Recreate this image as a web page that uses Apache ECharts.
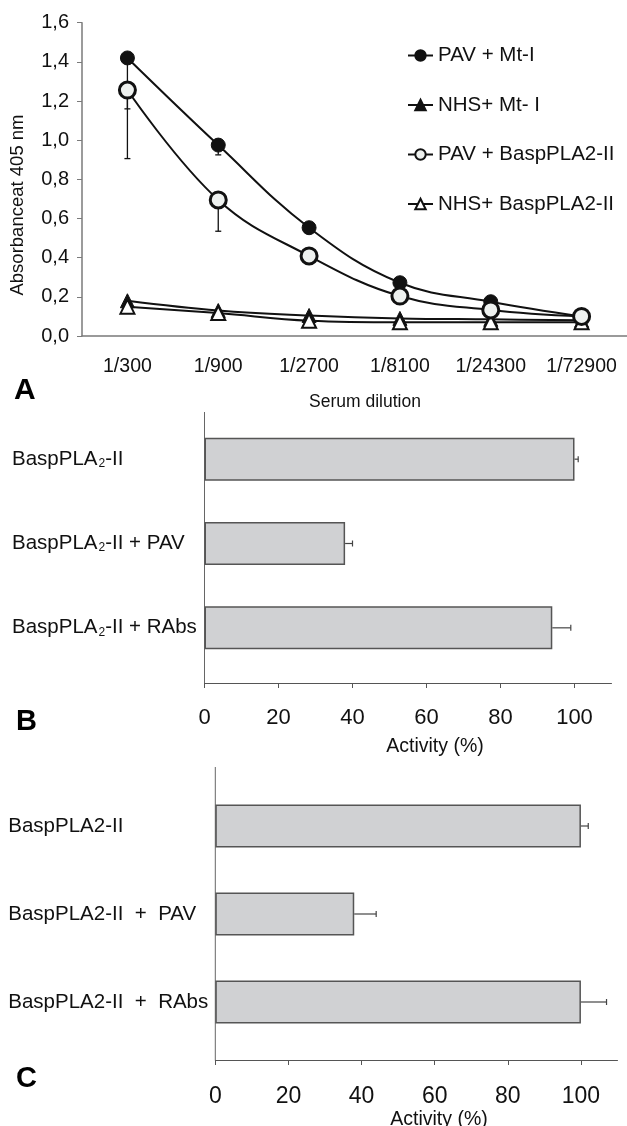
<!DOCTYPE html>
<html>
<head>
<meta charset="utf-8">
<script src="https://cdn.jsdelivr.net/npm/echarts@6/dist/echarts.min.js"></script>
<style>
  html, body { margin: 0; padding: 0; background: #fff; }
  #chart { width: 627px; height: 1126px; }
</style>
</head>
<body>
<div id="chart"></div>
<script>
// ---- panel A : ELISA curves ----
var dilutions = ['1/300', '1/900', '1/2700', '1/8100', '1/24300', '1/72900'];
var pavMt = [1.42, 0.975, 0.553, 0.272, 0.175, 0.10];
var pavMtErr = [0.26, 0.05, 0.02, 0.02, 0.01, 0.01];
var nhsMt = [0.18, 0.13, 0.105, 0.09, 0.085, 0.08];
var pavBasp = [1.256, 0.695, 0.409, 0.204, 0.133, 0.10];
var pavBaspErr = [0.35, 0.16, 0.02, 0.02, 0.01, 0.01];
var nhsBasp = [0.15, 0.117, 0.078, 0.07, 0.07, 0.07];

// ---- panel B : activity ----
var bCats = ['BaspPLA2-II', 'BaspPLA2-II + PAV', 'BaspPLA2-II + RAbs'];
var bVals = [100, 38, 94];
var bErr = [1, 2, 5];

// ---- panel C : activity ----
var cCats = ['BaspPLA2-II', 'BaspPLA2-II  +  PAV', 'BaspPLA2-II  +  RAbs'];
var cVals = [100, 38, 100];
var cErr = [2, 6, 7];

var activityTicks = [0, 20, 40, 60, 80, 100];
var FONT = 'Liberation Sans, Arial, sans-serif';
var AXIS = '#7a7a7a';

function vErrData(vals, errs) {
    return vals.map(function (v, i) { return [i, v, errs[i]]; });
}
function hErrData(vals, errs) {
    return vals.map(function (v, i) { return [v, i, errs[i]]; });
}

// downward error bar (panel A)
function renderDown(params, api) {
    var p = api.coord([api.value(0), api.value(1)]);
    var q = api.coord([api.value(0), api.value(1) - api.value(2)]);
    var st = { stroke: '#111', lineWidth: 1.3 };
    return { type: 'group', children: [
        { type: 'line', shape: { x1: p[0], y1: p[1], x2: q[0], y2: q[1] }, style: st },
        { type: 'line', shape: { x1: q[0] - 3, y1: q[1], x2: q[0] + 3, y2: q[1] }, style: st }
    ] };
}
// rightward error bar (panels B, C)
function renderRight(params, api) {
    var p = api.coord([api.value(0), api.value(1)]);
    var q = api.coord([api.value(0) + api.value(2), api.value(1)]);
    var st = { stroke: '#444', lineWidth: 1.2 };
    return { type: 'group', children: [
        { type: 'line', shape: { x1: p[0], y1: p[1], x2: q[0], y2: q[1] }, style: st },
        { type: 'line', shape: { x1: q[0], y1: q[1] - 3, x2: q[0], y2: q[1] + 3 }, style: st }
    ] };
}

function lineSeries(name, data, symbol, size, fill, bw) {
    return {
        name: name, type: 'line', xAxisIndex: 0, yAxisIndex: 0,
        data: data, smooth: 0.4, symbol: symbol, symbolSize: size,
        lineStyle: { color: '#111', width: 2 },
        itemStyle: { color: fill, borderColor: '#111', borderWidth: bw },
        z: 3
    };
}

function barSeries(idx, vals) {
    return {
        type: 'bar', xAxisIndex: idx, yAxisIndex: idx, data: vals,
        barWidth: 43,
        itemStyle: { color: '#d0d1d3', borderColor: '#555', borderWidth: 1.5 }
    };
}

function activityX(idx, offset, fs, margin) {
    return {
        type: 'value', gridIndex: idx, min: 0, max: 110, interval: 20, offset: offset,
        axisLine: { show: true, lineStyle: { color: '#555', width: 1 } },
        axisTick: { show: true, length: 5, customValues: activityTicks, lineStyle: { color: '#555' } },
        axisLabel: { customValues: activityTicks, fontSize: fs, color: '#111', fontFamily: FONT, margin: margin },
        splitLine: { show: false }
    };
}

function catY(idx, cats, margin, sub) {
    return {
        type: 'category', gridIndex: idx, data: cats, inverse: true,
        axisLine: { show: false }, axisTick: { show: false },
        axisLabel: {
            align: 'left', margin: margin, fontSize: 20.5, color: '#111', fontFamily: FONT, interval: 0,
            formatter: sub ? function (v) { return v.replace('PLA2', 'PLA{s|2}'); } : null,
            rich: { s: { fontSize: 12, color: '#111', fontFamily: FONT, verticalAlign: 'bottom', padding: [8, 0, 0, 1] } }
        }
    };
}

var option = {
    animation: false,
    backgroundColor: '#fff',
    textStyle: { fontFamily: FONT },
    legend: {
        data: ['PAV + Mt-I', 'NHS+ Mt- I', 'PAV + BaspPLA2-II', 'NHS+ BaspPLA2-II'],
        orient: 'vertical', left: 402, top: 40, itemWidth: 25, itemHeight: 13, itemGap: 28.5,
        textStyle: { fontSize: 20.5, color: '#111', fontFamily: FONT }
    },
    grid: [
        { left: 82, top: 22.7, width: 545, height: 313.3 },
        { left: 204.5, top: 417, height: 253, right: 15.5 },
        { left: 215.3, top: 782, height: 264, right: 9.5 }
    ],
    xAxis: [
        {
            type: 'category', gridIndex: 0, data: dilutions, boundaryGap: true,
            axisLine: { lineStyle: { color: AXIS, width: 1.5 } },
            axisTick: { length: 6, interval: 0, lineStyle: { color: AXIS } },
            axisLabel: { interval: 0, hideOverlap: false, fontSize: 19.5, color: '#111', fontFamily: FONT, margin: 21 }
        },
        activityX(1, 13, 22, 24),
        activityX(2, 14, 23, 25)
    ],
    yAxis: [
        {
            type: 'value', gridIndex: 0, min: 0, max: 1.6, interval: 0.2,
            axisLine: { show: true, lineStyle: { color: AXIS, width: 1.5 } },
            axisTick: { show: true, length: 5, lineStyle: { color: AXIS } },
            axisLabel: {
                fontSize: 20, color: '#111', fontFamily: FONT, margin: 13,
                formatter: function (v) { return v.toFixed(1).replace('.', ','); }
            },
            splitLine: { show: false }
        },
        catY(1, bCats, 192.5, true),
        catY(2, cCats, 207, false)
    ],
    graphic: [
        { type: 'line', shape: { x1: 204.5, y1: 412, x2: 204.5, y2: 683 }, style: { stroke: '#666', lineWidth: 1 } },
        { type: 'line', shape: { x1: 215.3, y1: 767, x2: 215.3, y2: 1060 }, style: { stroke: '#666', lineWidth: 1 } },
        { type: 'text', x: 18, y: 205, rotation: Math.PI / 2,
          style: { text: 'Absorbanceat 405 nm', font: '18.5px ' + FONT, fill: '#111', textAlign: 'center', textVerticalAlign: 'middle' } },
        { type: 'text', x: 365, y: 402,
          style: { text: 'Serum dilution', font: '17.5px ' + FONT, fill: '#111', textAlign: 'center', textVerticalAlign: 'middle' } },
        { type: 'text', x: 435, y: 747,
          style: { text: 'Activity (%)', font: '19.5px ' + FONT, fill: '#111', textAlign: 'center', textVerticalAlign: 'middle' } },
        { type: 'text', x: 439, y: 1120,
          style: { text: 'Activity (%)', font: '19.5px ' + FONT, fill: '#111', textAlign: 'center', textVerticalAlign: 'middle' } },
        { type: 'text', x: 14, y: 391,
          style: { text: 'A', font: 'bold 30px ' + FONT, fill: '#000', textAlign: 'left', textVerticalAlign: 'middle' } },
        { type: 'text', x: 16, y: 722,
          style: { text: 'B', font: 'bold 29px ' + FONT, fill: '#000', textAlign: 'left', textVerticalAlign: 'middle' } },
        { type: 'text', x: 16, y: 1079,
          style: { text: 'C', font: 'bold 29px ' + FONT, fill: '#000', textAlign: 'left', textVerticalAlign: 'middle' } }
    ],
    series: [
        { type: 'custom', xAxisIndex: 0, yAxisIndex: 0, renderItem: renderDown,
          data: vErrData(pavMt, pavMtErr), encode: { x: 0, y: 1 }, z: 2 },
        { type: 'custom', xAxisIndex: 0, yAxisIndex: 0, renderItem: renderDown,
          data: vErrData(pavBasp, pavBaspErr), encode: { x: 0, y: 1 }, z: 2 },
        lineSeries('NHS+ Mt- I', nhsMt, 'triangle', 14, '#111', 1),
        lineSeries('NHS+ BaspPLA2-II', nhsBasp, 'triangle', 14, '#fff', 2),
        lineSeries('PAV + Mt-I', pavMt, 'circle', 14, '#111', 1),
        lineSeries('PAV + BaspPLA2-II', pavBasp, 'circle', 16, '#eef1ef', 3),
        barSeries(1, bVals),
        { type: 'custom', xAxisIndex: 1, yAxisIndex: 1, renderItem: renderRight,
          data: hErrData(bVals, bErr), encode: { x: 0, y: 1 }, z: 3 },
        barSeries(2, cVals),
        { type: 'custom', xAxisIndex: 2, yAxisIndex: 2, renderItem: renderRight,
          data: hErrData(cVals, cErr), encode: { x: 0, y: 1 }, z: 3 }
    ]
};

echarts.init(document.getElementById('chart')).setOption(option);
</script>
</body>
</html>
